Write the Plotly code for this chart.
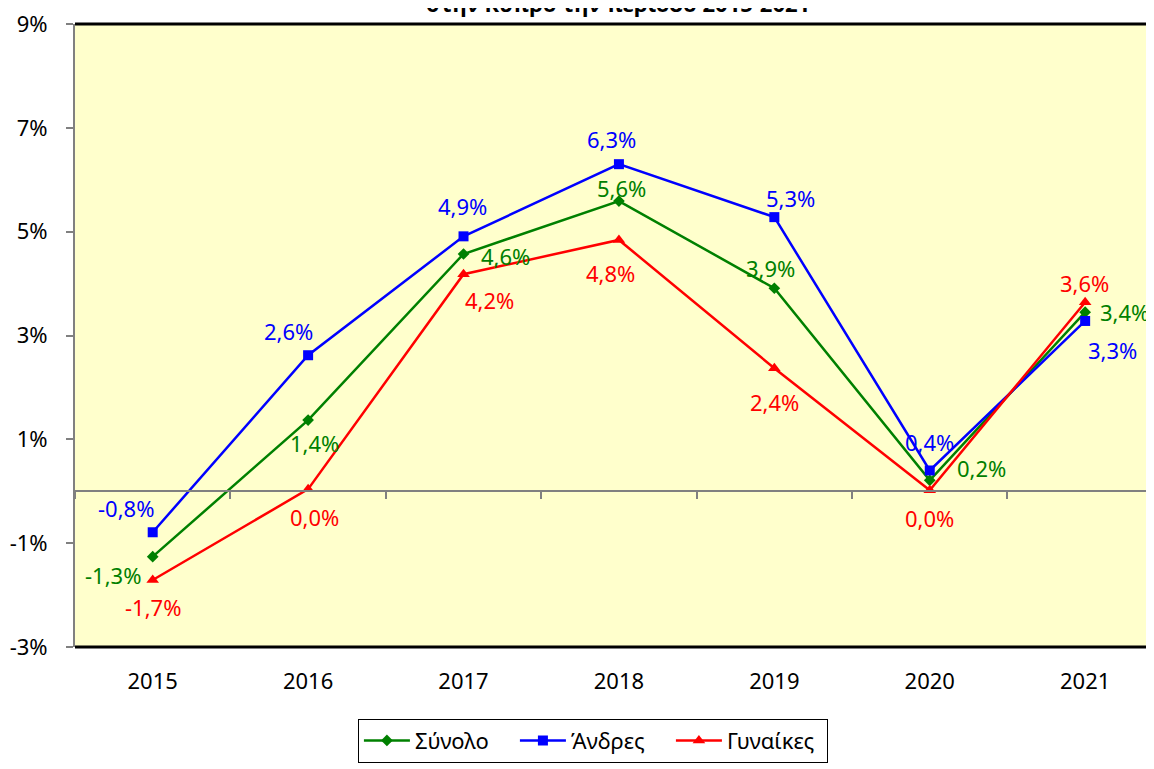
import plotly.graph_objects as go

years = ["2015", "2016", "2017", "2018", "2019", "2020", "2021"]
total = [-1.26, 1.37, 4.57, 5.59, 3.91, 0.21, 3.45]
men = [-0.79, 2.62, 4.91, 6.30, 5.28, 0.40, 3.28]
women = [-1.71, 0.04, 4.18, 4.84, 2.37, 0.02, 3.64]
total_lbl = ["-1,3%", "1,4%", "4,6%", "5,6%", "3,9%", "0,2%", "3,4%"]
men_lbl = ["-0,8%", "2,6%", "4,9%", "6,3%", "5,3%", "0,4%", "3,3%"]
women_lbl = ["-1,7%", "0,0%", "4,2%", "4,8%", "2,4%", "0,0%", "3,6%"]
yticks = [-3, -1, 1, 3, 5, 7, 9]
ytick_text = ["-3%", "-1%", "1%", "3%", "5%", "7%", "9%"]

GREEN = "#008000"
BLUE = "#0000FF"
RED = "#FF0000"
FONT = "Noto Sans"
FS = 22

# label offsets (pixels) relative to data points
total_off = [(-40, 18), (6, 23), (42, 2), (3, -13), (-4, -20), (52, -12), (39, 0)]
men_off = [(-27, -24), (-20, -24), (-1, -30), (-7, -25), (16, -19), (0, -28), (27, 29)]
women_off = [(0, 27), (6, 28), (26, 26), (-8, 33), (0, 34), (0, 28), (-1, -19)]

fig = go.Figure()
fig.add_trace(go.Scatter(x=years, y=total, name="Σύνολο", mode="lines+markers",
                         line=dict(color=GREEN, width=2.5),
                         marker=dict(symbol="diamond", size=9, color=GREEN)))
fig.add_trace(go.Scatter(x=years, y=men, name="Άνδρες", mode="lines+markers",
                         line=dict(color=BLUE, width=2.5),
                         marker=dict(symbol="square", size=10, color=BLUE)))
fig.add_trace(go.Scatter(x=years, y=women, name="Γυναίκες", mode="lines+markers",
                         line=dict(color=RED, width=2.5),
                         marker=dict(symbol="triangle-up", size=11, color=RED)))
# invisible trace to carry the zero-line axis
fig.add_trace(go.Scatter(x=years, y=[0] * len(years), xaxis="x2", mode="lines",
                         line=dict(width=0), showlegend=False, hoverinfo="skip"))

for vals, lbls, offs, col in [(total, total_lbl, total_off, GREEN),
                              (men, men_lbl, men_off, BLUE),
                              (women, women_lbl, women_off, RED)]:
    for i, (yv, t, (dx, dy)) in enumerate(zip(vals, lbls, offs)):
        fig.add_annotation(xref="x", yref="y", x=i, y=yv, text=t, showarrow=False,
                           xshift=dx, yshift=-dy,
                           font=dict(family=FONT, size=FS, color=col))

fig.add_annotation(xref="paper", yref="paper", x=0.503, y=1.0, yshift=21,
                   text="<b>στην Κύπρο την περίοδο 2015-2021</b>", showarrow=False,
                   yanchor="middle",
                   font=dict(family=FONT, size=FS, color="black"))

# top and bottom frame lines
fig.add_shape(type="line", xref="paper", yref="paper", x0=0, x1=1, y0=1, y1=1,
              line=dict(color="black", width=3))
fig.add_shape(type="line", xref="paper", yref="paper", x0=0, x1=1, y0=0, y1=0,
              line=dict(color="black", width=3))

fig.update_layout(
    width=1146, height=761,
    margin=dict(l=67, r=0, t=16, b=122, autoexpand=False),
    paper_bgcolor="white", plot_bgcolor="#FFFFCC",
    font=dict(family=FONT, size=FS, color="black"),
    showlegend=True,
    legend=dict(orientation="h", x=0.48, xanchor="center", y=-0.115, yanchor="top",
                bordercolor="black", borderwidth=1, bgcolor="white",
                entrywidth=95, itemwidth=46,
                font=dict(family=FONT, size=FS, color="black")),
    xaxis=dict(type="category", range=[-0.5, 6.443], showgrid=False, zeroline=False,
               showline=False, ticks="", ticklabelstandoff=19,
               tickfont=dict(family=FONT, size=FS, color="black")),
    xaxis2=dict(type="category", range=[-0.5, 6.443], overlaying="x", anchor="free",
                position=0.25, showline=True, linecolor="#808080", linewidth=2,
                ticks="outside", tickson="boundaries", ticklen=7, tickwidth=2,
                tickcolor="#808080", showticklabels=False, showgrid=False,
                zeroline=False),
    yaxis=dict(range=[-3, 9], tickvals=yticks, ticktext=ytick_text, showgrid=False,
               zeroline=False, showline=True, linecolor="#808080", linewidth=2,
               ticks="outside", ticklen=7, tickwidth=2, tickcolor="#808080",
               ticklabelstandoff=14, ticklabeloverflow="allow",
               tickfont=dict(family=FONT, size=FS, color="black")),
)

fig.write_html("out.html")
